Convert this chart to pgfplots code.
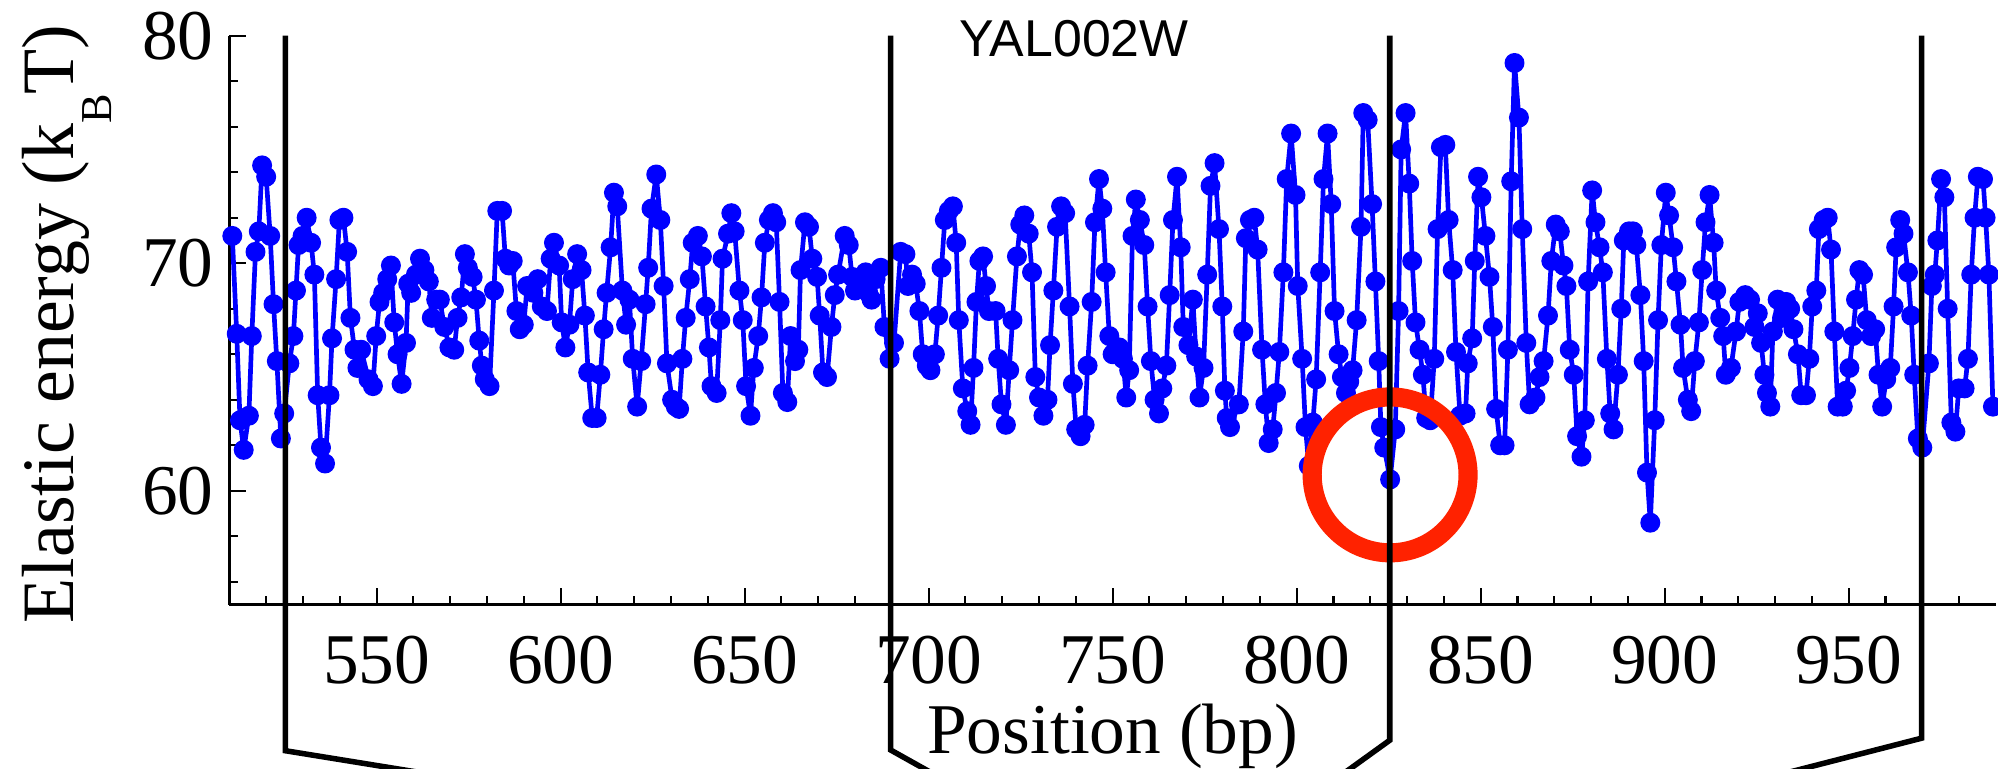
\documentclass[border=0pt]{standalone}
\usepackage{fontspec}
\setmainfont{Liberation Serif}
\newfontfamily\sansfont{Liberation Sans}
\usepackage{pgfplots}
\pgfplotsset{compat=1.18}
\usepackage{pgfplotstable}
\definecolor{ringred}{RGB}{255,34,0}

\pgfplotstableread{
x y
510.8 71.2
512.0 66.9
512.9 63.1
513.9 61.8
515.3 63.3
516.1 66.8
517.1 70.5
518.0 71.4
518.9 74.3
520.0 73.8
521.1 71.2
522.0 68.2
522.9 65.7
524.0 62.3
524.9 63.4
526.3 65.6
527.4 66.8
528.1 68.8
528.8 70.8
529.9 71.2
531.0 72.0
532.2 70.9
533.1 69.5
534.0 64.2
534.9 61.9
536.0 61.2
537.2 64.2
537.9 66.7
539.0 69.3
539.9 71.9
541.0 72.0
542.0 70.5
542.9 67.6
544.0 66.2
544.8 65.4
545.8 66.2
547.8 64.9
549.0 64.6
549.9 66.8
550.8 68.3
551.8 68.7
552.9 69.3
553.9 69.9
554.8 67.4
555.7 66.0
556.8 64.7
558.0 66.5
558.6 69.1
559.4 68.7
560.7 69.5
561.8 70.2
563.0 69.7
564.2 69.2
565.0 67.6
566.2 68.4
567.2 68.4
568.4 67.2
569.8 66.3
571.1 66.2
572.0 67.6
573.0 68.5
574.0 70.4
574.8 69.8
576.1 69.4
577.0 68.4
577.9 66.6
578.6 65.5
579.4 64.9
580.7 64.6
581.9 68.8
582.8 72.3
584.1 72.3
585.0 70.2
586.0 69.9
587.0 70.1
588.0 67.9
588.9 67.1
590.0 67.3
590.9 69.0
592.6 68.7
593.8 69.3
594.9 68.1
596.3 67.9
597.3 70.2
598.2 70.9
599.6 69.9
600.3 67.4
601.3 66.3
602.4 67.3
603.3 69.3
604.5 70.4
605.7 69.7
606.6 67.7
607.5 65.2
608.6 63.2
609.8 63.2
610.8 65.1
611.7 67.1
612.5 68.7
613.6 70.7
614.5 73.1
615.4 72.5
616.8 68.8
617.8 67.3
618.7 68.4
619.6 65.8
620.8 63.7
621.9 65.7
623.1 68.2
623.8 69.8
624.7 72.4
626.0 73.9
627.1 71.9
628.0 69.0
628.9 65.6
630.3 64.0
631.3 63.7
632.2 63.6
633.1 65.8
634.0 67.6
635.1 69.3
635.9 70.9
637.3 71.2
638.4 70.3
639.4 68.1
640.3 66.3
641.0 64.6
642.4 64.3
643.4 67.5
644.0 70.2
645.5 71.3
646.4 72.2
647.3 71.4
648.6 68.8
649.5 67.5
650.4 64.6
651.6 63.3
652.5 65.4
653.7 66.8
654.6 68.5
655.5 70.9
656.6 71.9
657.7 72.2
658.6 71.8
659.5 68.3
660.4 64.3
661.6 63.9
662.5 66.8
663.7 65.7
664.6 66.2
665.2 69.7
666.4 71.8
667.5 71.6
668.4 70.2
669.7 69.4
670.4 67.7
671.3 65.2
672.4 65.0
673.6 67.2
674.5 68.6
675.4 69.5
677.2 71.2
678.3 70.8
679.2 69.4
680.0 68.8
681.5 69.0
682.9 69.6
683.6 68.7
684.5 68.4
685.6 69.3
687.0 69.8
688.0 67.2
689.4 65.8
690.6 66.5
692.4 70.5
693.7 70.4
694.4 69.0
695.5 69.5
696.5 69.1
697.5 67.9
698.4 66.0
699.5 65.5
700.5 65.3
701.7 66.0
702.6 67.7
703.5 69.8
704.4 71.9
705.5 72.3
706.6 72.5
707.5 70.9
708.2 67.5
709.3 64.5
710.5 63.5
711.4 62.9
712.2 65.4
713.0 68.3
713.8 70.1
714.8 70.3
715.6 69.0
716.4 67.9
718.2 67.9
718.9 65.8
719.8 63.8
721.0 62.9
721.9 65.3
722.8 67.5
724.0 70.3
724.9 71.7
726.0 72.1
727.2 71.3
728.1 69.6
729.0 65.0
730.0 64.1
731.2 63.3
732.3 64.0
733.0 66.4
733.9 68.8
734.9 71.6
736.0 72.5
737.1 72.2
738.3 68.1
739.2 64.7
740.1 62.7
741.3 62.4
742.4 62.9
743.2 65.5
744.3 68.3
745.2 71.8
746.3 73.7
747.2 72.4
748.1 69.6
749.1 66.8
750.0 66.0
750.9 66.2
751.8 66.3
752.8 65.8
753.7 64.1
754.5 65.3
755.4 71.2
756.3 72.8
757.4 71.9
758.6 70.8
759.5 68.1
760.4 65.7
761.4 64.0
762.6 63.4
763.5 64.5
764.6 65.5
765.5 68.6
766.4 71.9
767.5 73.8
768.5 70.7
769.2 67.2
770.6 66.4
771.8 68.4
772.7 65.9
773.6 64.1
774.7 65.4
775.7 69.5
776.6 73.4
777.7 74.4
778.9 71.5
779.8 68.1
780.5 64.4
781.0 63.2
781.9 62.8
784.3 63.8
785.5 67.0
786.2 71.1
787.3 71.9
788.5 72.0
789.4 70.6
790.6 66.2
791.5 63.8
792.4 62.1
793.5 62.7
794.4 64.3
795.3 66.1
796.4 69.6
797.3 73.7
798.5 75.7
799.7 73.0
800.3 69.0
801.5 65.8
802.4 62.8
803.3 61.1
804.4 63.0
805.3 64.9
806.4 69.6
807.3 73.7
808.4 75.7
809.4 72.6
810.3 67.9
811.4 66.0
812.3 65.0
813.4 64.3
814.3 64.8
815.2 65.3
816.3 67.5
817.5 71.6
818.1 76.6
819.3 76.3
820.5 72.6
821.4 69.2
822.3 65.7
822.9 62.8
823.8 61.9
825.4 60.5
826.8 62.7
827.7 67.9
828.4 75.0
829.6 76.6
830.6 73.5
831.4 70.1
832.3 67.4
833.4 66.2
834.3 65.1
835.2 63.2
836.3 63.1
837.4 65.8
838.3 71.5
839.2 75.1
840.4 75.2
841.3 71.9
842.4 69.7
843.3 66.1
844.4 63.3
845.9 63.4
846.5 65.6
847.7 66.7
848.4 70.1
849.3 73.8
850.2 72.9
851.3 71.2
852.4 69.4
853.3 67.2
854.2 63.6
855.3 62.0
856.5 62.0
857.4 66.2
858.3 73.6
859.2 78.8
860.4 76.4
861.3 71.5
862.4 66.5
863.3 63.8
864.9 64.1
866.0 65.0
867.1 65.7
868.3 67.7
869.2 70.1
870.4 71.7
871.5 71.4
872.5 69.9
873.3 69.0
874.2 66.2
875.3 65.1
876.2 62.4
877.4 61.5
878.3 63.1
879.2 69.2
880.3 73.2
881.2 71.8
882.3 70.7
883.2 69.6
884.3 65.8
885.2 63.4
886.1 62.7
887.3 65.1
888.2 68.0
888.9 71.0
890.3 71.4
891.4 71.4
892.3 70.8
893.4 68.6
894.3 65.7
895.2 60.8
896.1 58.6
897.3 63.1
898.2 67.5
899.1 70.8
900.3 73.1
901.2 72.1
902.3 70.7
903.2 69.2
904.3 67.3
905.0 65.4
906.3 64.0
907.2 63.5
908.2 65.7
909.3 67.4
910.2 69.7
911.1 71.8
912.2 73.0
913.3 70.9
914.0 68.8
915.1 67.6
915.9 66.8
916.6 65.1
918.0 65.4
919.4 67.0
920.3 68.3
921.9 68.6
923.2 68.4
924.4 67.2
925.3 67.8
926.2 66.5
927.1 65.1
927.8 64.3
928.7 63.7
929.4 67.0
930.7 68.4
931.9 67.6
933.0 68.3
934.1 68.0
935.0 67.1
936.2 66.0
937.1 64.2
938.4 64.2
939.3 65.8
940.1 68.1
941.2 68.8
941.9 71.5
943.2 71.9
944.3 72.0
945.2 70.6
946.1 67.0
947.0 63.7
948.4 63.7
949.3 64.4
950.2 65.4
951.1 66.8
952.0 68.4
952.9 69.7
953.9 69.5
954.9 67.5
956.1 66.8
957.2 67.1
958.1 65.1
959.1 63.7
960.2 64.9
961.3 65.4
962.2 68.1
962.9 70.7
964.0 71.9
964.9 71.3
966.1 69.6
967.0 67.7
967.8 65.1
968.8 62.3
970.0 61.9
971.8 65.6
972.6 69.0
973.4 69.5
974.1 71.0
975.1 73.7
976.0 72.9
976.9 68.0
977.9 63.0
979.0 62.6
979.9 64.5
981.5 64.5
982.4 65.8
983.3 69.5
984.2 72.0
985.1 73.8
986.5 73.7
987.2 72.0
988.1 69.5
989.2 63.7
}\energy

\begin{document}
\begin{tikzpicture}
\begin{axis}[
  name=ax,
  at={(0,0)}, anchor=south west,
  scale only axis,
  width=415.9pt, height=133.95pt,
  xmin=510, xmax=990, ymin=55, ymax=80,
  axis x line*=bottom, axis y line*=left,
  axis line style={-, line width=0.6pt, black},
  tick align=inside,
  xtick={550,600,...,950},
  minor xtick={520,530,...,980},
  ytick={60,70,80},
  minor ytick={56,58,...,78},
  major tick length=4pt, minor tick length=2pt,
  tick style={black, line width=0.5pt},
  tick label style={font=\fontsize{16.8}{18}\selectfont},
  /pgf/number format/assume math mode=true,
  xticklabel style={inner sep=0pt, anchor=north, yshift=-7.2pt},
  yticklabel style={inner sep=0pt, anchor=east, xshift=-3.5pt},
  xlabel={Position (bp)},
  xlabel style={at={(axis description cs:0.5,0)}, anchor=base, yshift=-34.95pt, inner sep=0pt, font=\fontsize{16.8}{18}\selectfont},
  clip=false,
]
\addplot[color=blue, line width=1.1pt, line join=round, line cap=round, mark=*, mark size=2.2pt,
  mark options={solid, draw=blue, fill=blue, line width=0.3pt}] table[x=x, y=y] {\energy};
\coordinate (c) at (axis cs:825.4,60.7);
\coordinate (l1t) at (axis cs:525.2,80);
\coordinate (l1b) at (axis cs:525.2,48.58);
\coordinate (l1e) at (axis cs:585.6,47);
\coordinate (l2t) at (axis cs:689.7,80);
\coordinate (l2b) at (axis cs:689.7,48.61);
\coordinate (l2e) at (axis cs:707.5,47);
\coordinate (l3t) at (axis cs:825.3,80);
\coordinate (l3b) at (axis cs:825.3,49.04);
\coordinate (l3e) at (axis cs:807.8,47);
\coordinate (l4t) at (axis cs:969.8,80);
\coordinate (l4b) at (axis cs:969.8,49.13);
\coordinate (l4e) at (axis cs:918.5,47);
\end{axis}
\draw[ringred, line width=4.5pt] (c) circle[radius=18.35pt];
\draw[black, line width=1.3pt, line join=miter] (l1t) -- (l1b) -- (l1e);
\draw[black, line width=1.3pt, line join=miter] (l2t) -- (l2b) -- (l2e);
\draw[black, line width=1.3pt, line join=miter] (l3t) -- (l3b) -- (l3e);
\draw[black, line width=1.3pt, line join=miter] (l4t) -- (l4b) -- (l4e);
\node[rotate=90, anchor=base, inner sep=0pt, font=\fontsize{17.4}{19}\selectfont]
  at ([shift={(-36.8pt,66.06pt)}]ax.south west)
  {Elastic energy (k\raisebox{-0.52em}{\fontsize{10.4}{11}\selectfont B}T)};
\node[anchor=base west, inner sep=0pt, font=\sansfont\fontsize{12.2}{14}\selectfont]
  at ([shift={(171.6pt,129pt)}]ax.south west) {YAL002W};
\pgfresetboundingbox
\path[use as bounding box] ([shift={(-54pt,-38.55pt)}]ax.south west) rectangle ([shift={(0.5pt,8.4pt)}]ax.north east);
\end{tikzpicture}
\end{document}
